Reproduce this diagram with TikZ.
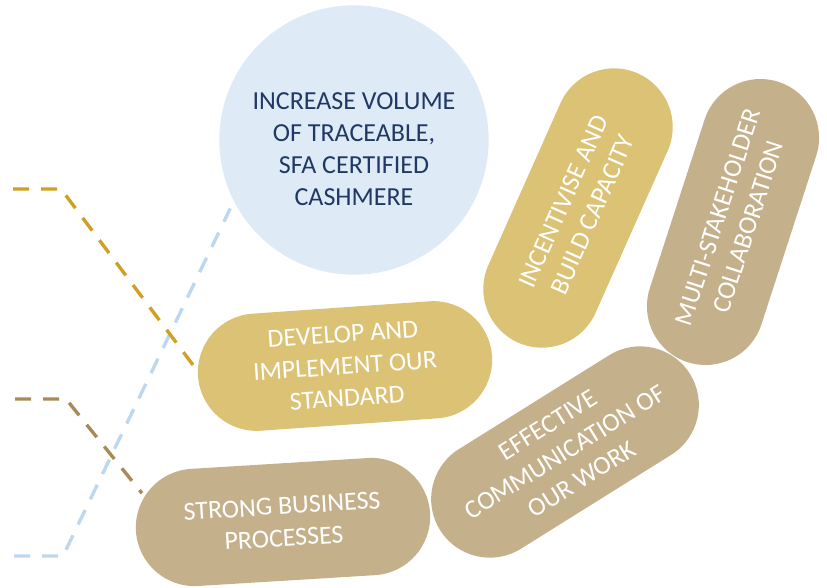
\documentclass[tikz,border=0pt]{standalone}
\usepackage{fontspec}
\setmainfont{Carlito}
\usepackage{xcolor}
\usepackage{tikz}
\usetikzlibrary{shapes.misc}
\definecolor{cmblue}{RGB}{222, 234, 246}
\definecolor{cmnavy}{RGB}{32, 56, 100}
\definecolor{cmgold}{RGB}{220, 194, 117}
\definecolor{cmtan}{RGB}{196, 176, 138}
\definecolor{cmgoldline}{RGB}{207, 160, 35}
\definecolor{cmtanline}{RGB}{168, 138, 88}
\definecolor{cmblueline}{RGB}{189, 215, 238}

\begin{document}
\begin{tikzpicture}[x=0.75pt, y=-0.75pt,
  pill/.style={rounded rectangle, minimum width=221pt, minimum height=88pt,
    inner sep=0pt, align=center, text=white, font=\fontsize{19.5}{24}\selectfont},
  link/.style={line width=2.5pt, dash pattern=on 12pt off 9pt}]
\useasboundingbox (0,0) rectangle (827,587);

% Goal circle
\node[circle, fill=cmblue, minimum size=202pt,
  label={[yshift=-6.5pt, align=center, text=cmnavy, font=\fontsize{19.5}{24}\selectfont]center:INCREASE VOLUME\\OF TRACEABLE,\\SFA CERTIFIED\\CASHMERE}]
  (goal) at (354,140) {};

% Pills
\node[pill, fill=cmgold, rotate=4] (develop) at (345,366) {DEVELOP AND\\IMPLEMENT OUR\\STANDARD};
\node[pill, fill=cmgold, rotate=66] (incentive) at (578,208) {INCENTIVISE AND\\BUILD CAPACITY};
\node[pill, fill=cmtan, rotate=72] (multi) at (733,222) {MULTI-STAKEHOLDER\\COLLABORATION};
\node[pill, fill=cmtan, rotate=32] (effective) at (565,452) {EFFECTIVE\\COMMUNICATION OF\\OUR WORK};
\node[pill, fill=cmtan, rotate=3.5] (strong) at (283,522) {STRONG BUSINESS\\PROCESSES};

% Dashed links from the left
\coordinate (goldstart) at (13,189);
\coordinate (goldbend) at (61,189);
\coordinate (tanstart) at (15,399);
\coordinate (tanbend) at (66,399);
\coordinate (bluestart) at (14,556);
\coordinate (bluebend) at (63,556);
\draw[link, cmblueline, shorten >=6pt] (bluestart) -- (bluebend) -- (goal.207);
\draw[link, cmgoldline, shorten >=4pt] (goldstart) -- (goldbend) -- (develop.178);
\draw[link, cmtanline, shorten >=3pt] (tanstart) -- (tanbend) -- (strong.166);
\end{tikzpicture}
\end{document}
